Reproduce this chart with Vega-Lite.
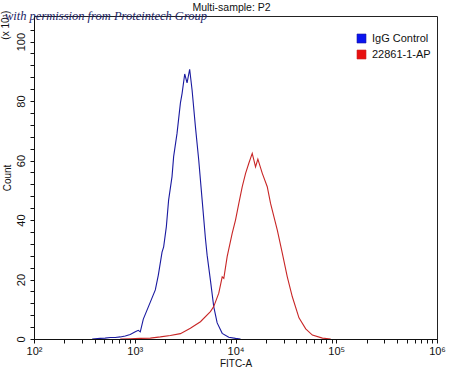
{
  "$schema": "https://vega.github.io/schema/vega-lite/v6.json",
  "width": 403,
  "height": 323,
  "autosize": "none",
  "padding": {"left": 34, "top": 16, "right": 13, "bottom": 32},
  "background": "white",
  "title": {"text": "Multi-sample: P2", "fontSize": 10.5, "fontWeight": "normal", "font": "Liberation Sans", "color": "#111", "offset": -3, "dx": -4},
  "config": {
    "view": {"stroke": "#222", "strokeWidth": 1},
    "font": "Liberation Sans"
  },
  "data": {"values": [
    {"series": "IgG Control", "fitc": 378, "count": 0},
    {"series": "IgG Control", "fitc": 454, "count": 0.2},
    {"series": "IgG Control", "fitc": 508, "count": 0.3},
    {"series": "IgG Control", "fitc": 570, "count": 0.5},
    {"series": "IgG Control", "fitc": 640, "count": 0.5},
    {"series": "IgG Control", "fitc": 718, "count": 0.7},
    {"series": "IgG Control", "fitc": 804, "count": 1.0},
    {"series": "IgG Control", "fitc": 902, "count": 1.5},
    {"series": "IgG Control", "fitc": 1012, "count": 2.4},
    {"series": "IgG Control", "fitc": 1084, "count": 2.9},
    {"series": "IgG Control", "fitc": 1135, "count": 2.4},
    {"series": "IgG Control", "fitc": 1216, "count": 6.7},
    {"series": "IgG Control", "fitc": 1427, "count": 12.4},
    {"series": "IgG Control", "fitc": 1600, "count": 16.5},
    {"series": "IgG Control", "fitc": 1714, "count": 21.5},
    {"series": "IgG Control", "fitc": 1866, "count": 29.2},
    {"series": "IgG Control", "fitc": 1936, "count": 31.0},
    {"series": "IgG Control", "fitc": 2058, "count": 37.7},
    {"series": "IgG Control", "fitc": 2168, "count": 46.7},
    {"series": "IgG Control", "fitc": 2344, "count": 54.6},
    {"series": "IgG Control", "fitc": 2432, "count": 61.3},
    {"series": "IgG Control", "fitc": 2630, "count": 69.2},
    {"series": "IgG Control", "fitc": 2838, "count": 79.3},
    {"series": "IgG Control", "fitc": 2951, "count": 82.6},
    {"series": "IgG Control", "fitc": 3133, "count": 89.1},
    {"series": "IgG Control", "fitc": 3306, "count": 86.1},
    {"series": "IgG Control", "fitc": 3508, "count": 90.7},
    {"series": "IgG Control", "fitc": 3707, "count": 83.7},
    {"series": "IgG Control", "fitc": 4000, "count": 71.4},
    {"series": "IgG Control", "fitc": 4315, "count": 60.2},
    {"series": "IgG Control", "fitc": 4667, "count": 46.7},
    {"series": "IgG Control", "fitc": 5027, "count": 33.9},
    {"series": "IgG Control", "fitc": 5228, "count": 28.2},
    {"series": "IgG Control", "fitc": 5636, "count": 19.8},
    {"series": "IgG Control", "fitc": 6081, "count": 10.9},
    {"series": "IgG Control", "fitc": 6577, "count": 5.4},
    {"series": "IgG Control", "fitc": 7379, "count": 1.9},
    {"series": "IgG Control", "fitc": 8570, "count": 0.6},
    {"series": "IgG Control", "fitc": 10000, "count": 0.2},
    {"series": "IgG Control", "fitc": 11220, "count": 0},
    {"series": "22861-1-AP", "fitc": 718, "count": 0},
    {"series": "22861-1-AP", "fitc": 902, "count": 0.1},
    {"series": "22861-1-AP", "fitc": 1135, "count": 0.2},
    {"series": "22861-1-AP", "fitc": 1427, "count": 0.3},
    {"series": "22861-1-AP", "fitc": 1795, "count": 0.7},
    {"series": "22861-1-AP", "fitc": 2254, "count": 1.2},
    {"series": "22861-1-AP", "fitc": 2838, "count": 1.8},
    {"series": "22861-1-AP", "fitc": 3565, "count": 3.6},
    {"series": "22861-1-AP", "fitc": 4487, "count": 5.8},
    {"series": "22861-1-AP", "fitc": 5636, "count": 9.2},
    {"series": "22861-1-AP", "fitc": 6081, "count": 10.9},
    {"series": "22861-1-AP", "fitc": 6823, "count": 15.4},
    {"series": "22861-1-AP", "fitc": 7379, "count": 20.9},
    {"series": "22861-1-AP", "fitc": 7656, "count": 20.4},
    {"series": "22861-1-AP", "fitc": 8265, "count": 27.7},
    {"series": "22861-1-AP", "fitc": 9268, "count": 35.5},
    {"series": "22861-1-AP", "fitc": 10000, "count": 40.0},
    {"series": "22861-1-AP", "fitc": 10790, "count": 45.6},
    {"series": "22861-1-AP", "fitc": 11670, "count": 51.2},
    {"series": "22861-1-AP", "fitc": 12590, "count": 55.7},
    {"series": "22861-1-AP", "fitc": 13560, "count": 59.1},
    {"series": "22861-1-AP", "fitc": 14660, "count": 62.4},
    {"series": "22861-1-AP", "fitc": 15810, "count": 57.9},
    {"series": "22861-1-AP", "fitc": 16670, "count": 60.5},
    {"series": "22861-1-AP", "fitc": 18450, "count": 55.7},
    {"series": "22861-1-AP", "fitc": 20660, "count": 51.2},
    {"series": "22861-1-AP", "fitc": 22280, "count": 45.6},
    {"series": "22861-1-AP", "fitc": 26000, "count": 36.6},
    {"series": "22861-1-AP", "fitc": 29170, "count": 28.8},
    {"series": "22861-1-AP", "fitc": 32660, "count": 20.9},
    {"series": "22861-1-AP", "fitc": 36640, "count": 14.2},
    {"series": "22861-1-AP", "fitc": 42660, "count": 7.1},
    {"series": "22861-1-AP", "fitc": 49770, "count": 3.4},
    {"series": "22861-1-AP", "fitc": 57940, "count": 1.3},
    {"series": "22861-1-AP", "fitc": 72950, "count": 0.3},
    {"series": "22861-1-AP", "fitc": 88100, "count": 0}
  ]},
  "layer": [
    {
      "mark": {"type": "line", "strokeWidth": 1.1, "clip": true},
      "encoding": {
        "x": {
          "field": "fitc", "type": "quantitative",
          "scale": {"type": "log", "domain": [100, 1000000], "nice": false},
          "axis": {
            "title": "FITC-A", "titleFontSize": 10, "titleFontWeight": "normal", "titleColor": "#111", "titlePadding": 2,
            "values": [100,200,300,400,500,600,700,800,900,1000,2000,3000,4000,5000,6000,7000,8000,9000,10000,20000,30000,40000,50000,60000,70000,80000,90000,100000,200000,300000,400000,500000,600000,700000,800000,900000,1000000],
            "tickCount": 100,
            "labelExpr": "indexof([100,1000,10000,100000,1000000], datum.value) >= 0 ? '10' + ['²','³','⁴','⁵','⁶'][round(log(datum.value)/LN10) - 2] : ''",
            "labelFontSize": 11, "labelColor": "#111", "labelPadding": 2, "labelFlush": false, "labelOverlap": false,
            "tickSize": 4, "tickColor": "#111", "domainColor": "#111", "grid": false
          }
        },
        "y": {
          "field": "count", "type": "quantitative",
          "scale": {"domain": [0, 108.6], "nice": false, "zero": true},
          "axis": {
            "title": "Count", "titleFontSize": 10, "titleFontWeight": "normal", "titleColor": "#111", "titlePadding": 3,
            "values": [0,4,8,12,16,20,24,28,32,36,40,44,48,52,56,60,64,68,72,76,80,84,88,92,96,100,104],
            "tickCount": 100,
            "labelExpr": "datum.value % 20 === 0 ? datum.label : ''",
            "labelAngle": 270, "labelAlign": "center", "labelBaseline": "bottom",
            "labelFontSize": 11, "labelColor": "#111", "labelPadding": 4, "labelOverlap": false,
            "tickSize": 4, "tickColor": "#111", "domainColor": "#111", "grid": false
          }
        },
        "color": {
          "field": "series", "type": "nominal",
          "scale": {"domain": ["IgG Control", "22861-1-AP"], "range": ["#1a1aa0", "#c82626"]},
          "legend": {
            "title": null, "orient": "none", "legendX": 322, "legendY": 17,
            "symbolType": "square", "symbolSize": 81, "symbolStrokeWidth": 0.6,
            "labelFontSize": 11, "labelColor": "#111", "labelOffset": 5, "rowPadding": 3,
            "encode": {"symbols": {"update": {
              "fill": {"signal": "datum.value === 'IgG Control' ? '#0a14f0' : '#e81010'"},
              "stroke": {"value": "#333"},
              "fillOpacity": {"value": 1}
            }}}
          }
        }
      }
    },
    {
      "data": {"values": [{"label": "(x 10¹)"}]},
      "mark": {"type": "text", "angle": 270, "align": "center", "baseline": "middle", "fontSize": 10, "color": "#111"},
      "encoding": {
        "x": {"datum": 52.7, "type": "quantitative"},
        "y": {"datum": 105.5, "type": "quantitative"},
        "text": {"field": "label"}
      }
    },
    {
      "data": {"values": [{"label": "with permission from Proteintech Group"}]},
      "mark": {"type": "text", "align": "left", "baseline": "middle", "fontSize": 12.5, "font": "Liberation Serif", "fontStyle": "italic", "fontWeight": "normal", "color": "#1c2466", "opacity": 1},
      "encoding": {
        "x": {"datum": 51.5, "type": "quantitative"},
        "y": {"datum": 108.6, "type": "quantitative"},
        "text": {"field": "label"}
      }
    }
  ]
}
